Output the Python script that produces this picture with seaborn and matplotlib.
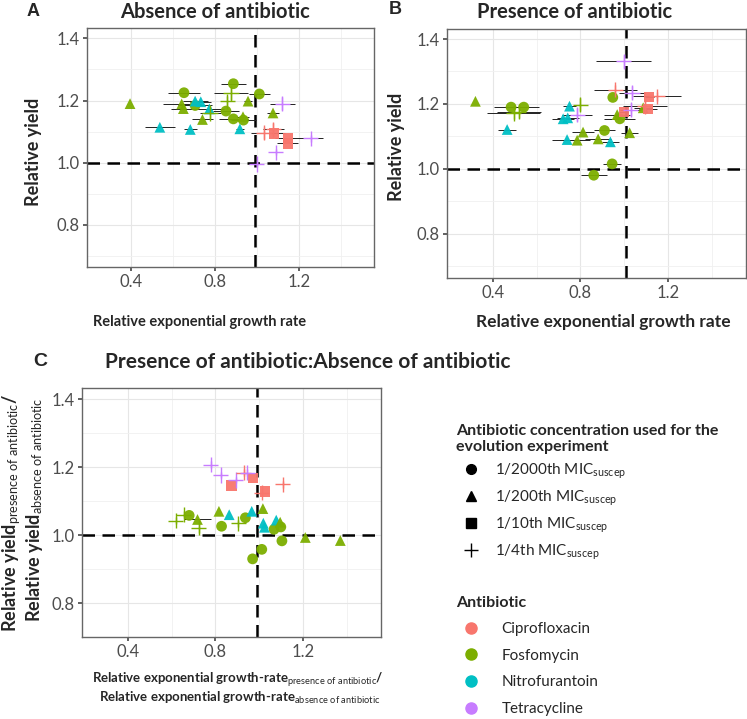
import numpy as np
import pandas as pd
import matplotlib
matplotlib.use('Agg')
import matplotlib.pyplot as plt
from matplotlib.lines import Line2D
import seaborn as sns

# legend / mapping info
drugs = ['Ciprofloxacin', 'Fosfomycin', 'Nitrofurantoin', 'Tetracycline']
drug_codes = ['C', 'F', 'N', 'T']
drug_colors = ['#F8766D', '#7CAE00', '#00BFC4', '#C77CFF']
conc_codes = ['o', '^', 's', '+']
conc_labels = ['1/2000th', '1/200th', '1/10th', '1/4th']

# Panel A - absence of antibiotic
a_x = [0.395, 0.652, 0.641, 0.649, 0.705, 0.705, 0.732, 0.773, 0.776, 0.740, 0.537,
       0.682, 0.887, 0.876, 0.859, 0.852, 0.957, 1.011, 0.887, 0.933, 0.935, 0.918,
       1.076, 1.120, 1.033, 1.078, 1.081, 1.146, 1.146, 1.256, 1.089, 0.998]
a_y = [1.190, 1.225, 1.189, 1.174, 1.184, 1.198, 1.196, 1.173, 1.160, 1.139, 1.114,
       1.107, 1.254, 1.223, 1.198, 1.166, 1.198, 1.221, 1.141, 1.148, 1.137, 1.109,
       1.160, 1.190, 1.096, 1.108, 1.094, 1.078, 1.062, 1.078, 1.034, 0.996]
a_drug = ['F', 'F', 'F', 'F', 'F', 'N', 'N', 'N', 'F', 'F', 'N',
          'N', 'F', 'F', 'F', 'F', 'F', 'F', 'F', 'F', 'F', 'N',
          'F', 'T', 'C', 'C', 'C', 'C', 'C', 'T', 'T', 'T']
a_conc = ['^', 'o', '^', '^', 'o', '^', '^', '^', '+', '^', '^',
          '^', 'o', '+', '+', 'o', '^', 'o', 'o', '^', 'o', '^',
          '^', '+', '+', '+', 's', 's', 's', '+', '+', '+']
a_xerr = [0.0, 0.075, 0.09, 0.06, 0.08, 0.06, 0.05, 0.07, 0.05, 0.05, 0.07,
          0.03, 0.06, 0.08, 0.03, 0.06, 0.02, 0.05, 0.07, 0.03, 0.06, 0.02,
          0.03, 0.06, 0.06, 0.05, 0.05, 0.06, 0.05, 0.06, 0.03, 0.01]
a_yerr = [0, 0, 0, 0, 0, 0, 0, 0, 0.02, 0, 0,
          0, 0, 0.02, 0.015, 0, 0, 0, 0, 0, 0, 0,
          0, 0.02, 0.02, 0.02, 0, 0, 0, 0.01, 0.01, 0.01]

# Panel B - presence of antibiotic
b_x = [0.320, 0.483, 0.541, 0.495, 0.518, 0.465, 0.750, 0.800, 0.785, 0.721, 0.742,
       0.812, 0.910, 0.739, 0.785, 0.881, 0.937, 1.025, 0.948, 0.968, 0.980, 0.945,
       0.861, 0.998, 0.960, 1.036, 1.115, 1.150, 1.109, 1.087, 0.998, 1.029, 1.094]
b_y = [1.208, 1.190, 1.190, 1.172, 1.176, 1.121, 1.193, 1.198, 1.167, 1.154, 1.157,
       1.113, 1.118, 1.090, 1.088, 1.092, 1.083, 1.111, 1.220, 1.167, 1.154, 1.015,
       0.980, 1.331, 1.244, 1.234, 1.222, 1.223, 1.185, 1.188, 1.175, 1.182, 1.193]
b_drug = ['F', 'F', 'F', 'F', 'F', 'N', 'N', 'F', 'T', 'N', 'N',
          'F', 'F', 'N', 'F', 'F', 'N', 'F', 'F', 'F', 'F', 'F',
          'F', 'T', 'C', 'T', 'C', 'C', 'C', 'F', 'C', 'T', 'C']
b_conc = ['^', 'o', 'o', '+', '+', '^', '^', '+', '+', '^', '^',
          '^', 'o', '^', '^', '^', '^', '^', 'o', '^', 'o', 'o',
          'o', '+', '+', '+', 's', '+', 's', '^', 's', '+', '+']
b_xerr = [0.0, 0.08, 0.07, 0.12, 0.10, 0.04, 0.03, 0.03, 0.07, 0.05, 0.05,
          0.05, 0.05, 0.07, 0.06, 0.06, 0.04, 0.04, 0.0, 0.06, 0.07, 0.04,
          0.06, 0.125, 0.10, 0.06, 0.02, 0.11, 0.04, 0.04, 0.02, 0.05, 0.10]
b_yerr = [0, 0, 0, 0.02, 0.02, 0, 0, 0.02, 0.02, 0, 0,
          0, 0, 0, 0, 0, 0, 0, 0, 0, 0, 0,
          0, 0.02, 0.015, 0.02, 0, 0.015, 0, 0, 0, 0.02, 0.015]

# Panel C - ratio presence:absence
c_x = [0.778, 0.825, 0.893, 0.930, 0.945, 0.874, 0.973, 1.027, 1.012, 1.108, 0.816,
       0.863, 0.966, 1.017, 0.937, 0.680, 0.655, 0.619, 0.718, 0.724, 0.828, 0.905,
       1.019, 1.024, 1.078, 1.096, 1.099, 1.068, 1.104, 1.211, 1.371, 1.012, 0.970]
c_y = [1.207, 1.177, 1.162, 1.184, 1.184, 1.146, 1.168, 1.128, 1.125, 1.150, 1.070,
       1.060, 1.070, 1.078, 1.051, 1.058, 1.060, 1.042, 1.046, 1.022, 1.026, 1.035,
       1.035, 1.023, 1.044, 1.038, 1.024, 1.017, 0.983, 0.993, 0.984, 0.958, 0.930]
c_drug = ['T', 'T', 'T', 'C', 'T', 'C', 'C', 'C', 'C', 'C', 'F',
          'N', 'N', 'F', 'F', 'F', 'F', 'F', 'F', 'F', 'F', 'F',
          'N', 'N', 'N', 'F', 'F', 'F', 'F', 'F', 'F', 'F', 'F']
c_conc = ['+', '+', '+', '+', '+', 's', 's', 's', '+', '+', '^',
          '^', '^', '^', 'o', 'o', '+', '+', '^', '+', 'o', '+',
          '^', '^', '^', '^', 'o', 'o', 'o', '^', '^', 'o', 'o']
c_xerr = [0.01, 0.02, 0.03, 0.03, 0.02, 0.0, 0.0, 0.0, 0.01, 0.02, 0.0,
          0.0, 0.0, 0.0, 0.0, 0.0, 0.03, 0.03, 0.06, 0.02, 0.0, 0.03,
          0.0, 0.0, 0.0, 0.0, 0.0, 0.0, 0.0, 0.0, 0.0, 0.0, 0.0]
c_yerr = [0.01, 0.01, 0.01, 0.01, 0.01, 0, 0, 0, 0.01, 0.01, 0,
          0, 0, 0, 0, 0, 0.01, 0.01, 0, 0.015, 0, 0.01,
          0, 0, 0, 0, 0, 0, 0, 0, 0, 0, 0]

sns.set_theme(style='white')
plt.rcParams['font.family'] = ['Lato', 'DejaVu Sans']
plt.rcParams['mathtext.fontset'] = 'custom'
plt.rcParams['mathtext.rm'] = 'Lato'
plt.rcParams['mathtext.it'] = 'Lato:italic'
plt.rcParams['mathtext.bf'] = 'Lato:bold'

W, H = 747, 719
fig = plt.figure(figsize=(W / 100, H / 100), dpi=100)
palette = dict(zip(drug_codes, drug_colors))


def px_axes(l, t, r, b):
    return fig.add_axes([l / W, 1 - b / H, (r - l) / W, (b - t) / H])


def ftext(x, y, s, **kw):
    fig.text(x / W, 1 - y / H, s, **kw)


def draw_panel(ax, x, y, drug, conc, xerr, yerr, vline, ylim):
    df = pd.DataFrame({'x': x, 'y': y, 'drug': drug, 'conc': conc,
                       'xerr': xerr, 'yerr': yerr})
    ax.hlines(df.y, df.x - df.xerr, df.x + df.xerr, color='#222222', lw=0.7, zorder=3)
    ye = df[df.yerr > 0]
    ax.vlines(ye.x, ye.y - ye.yerr, ye.y + ye.yerr,
              color=[palette[d] for d in ye.drug], lw=1.0, zorder=3)
    for m in conc_codes:
        sub = df[df.conc == m]
        if m == '+':
            sns.scatterplot(data=sub, x='x', y='y', hue='drug', palette=palette,
                            marker='+', s=120, linewidth=1.0, legend=False, ax=ax, zorder=4)
        else:
            sns.scatterplot(data=sub, x='x', y='y', hue='drug', palette=palette,
                            marker=m, s=60 if m != 's' else 55, linewidth=0,
                            alpha=0.95, legend=False, ax=ax, zorder=4)
    ax.axvline(vline, color='black', lw=1.8, ls=(0, (5, 3)), zorder=2)
    ax.axhline(1.0, color='black', lw=1.8, ls=(0, (5, 3)), zorder=2)
    ax.set_xlim(0.19, 1.557)
    ax.set_ylim(*ylim)
    ax.set_xticks([0.4, 0.8, 1.2])
    ax.set_xticks([0.6, 1.0, 1.4], minor=True)
    ax.set_yticks([0.8, 1.0, 1.2, 1.4])
    ax.set_yticks([0.7, 0.9, 1.1, 1.3], minor=True)
    ax.set_xticklabels(['0.4', '0.8', '1.2'])
    ax.set_yticklabels(['0.8', '1.0', '1.2', '1.4'])
    ax.grid(which='major', color='#E6E6E6', lw=0.8)
    ax.grid(which='minor', color='#F0F0F0', lw=0.6)
    ax.set_axisbelow(True)
    ax.tick_params(which='major', labelsize=12, colors='#4D4D4D', length=3, pad=2,
                   bottom=True, left=True)
    ax.tick_params(which='minor', length=0)
    for sp in ax.spines.values():
        sp.set_color('#666666')
        sp.set_linewidth(1.0)
    ax.set_xlabel('')
    ax.set_ylabel('')


ax_a = px_axes(87, 28, 374, 267)
draw_panel(ax_a, a_x, a_y, a_drug, a_conc, a_xerr, a_yerr, 0.99, (0.665, 1.433))
ax_b = px_axes(447, 29, 746, 278)
draw_panel(ax_b, b_x, b_y, b_drug, b_conc, b_xerr, b_yerr, 1.007, (0.663, 1.431))
ax_c = px_axes(82, 388, 381, 637)
draw_panel(ax_c, c_x, c_y, c_drug, c_conc, c_xerr, c_yerr, 0.99, (0.76, 1.433))

# panel letters and titles
ftext(33, 12, 'A', fontsize=13, fontweight='bold', family='Liberation Sans', ha='center', va='center')
ftext(215, 12, 'Absence of antibiotic', fontsize=14.5, fontweight='bold', ha='center', va='center')
ftext(395, 10, 'B', fontsize=13, fontweight='bold', family='Liberation Sans', ha='center', va='center')
ftext(575, 12, 'Presence of antibiotic', fontsize=14.5, fontweight='bold', ha='center', va='center')
ftext(40, 362, 'C', fontsize=14, fontweight='bold', family='Liberation Sans', ha='center', va='center')
ftext(105, 362, 'Presence of antibiotic:Absence of antibiotic', fontsize=15, fontweight='bold',
      ha='left', va='center')

# axis labels
ftext(33, 152, 'Relative yield', fontsize=13, fontweight='bold', rotation=90, ha='center', va='center')
ftext(397, 147, 'Relative yield', fontsize=13, fontweight='bold', rotation=90, ha='center', va='center')
ftext(200, 322, 'Relative exponential growth rate', fontsize=10.5, fontweight='bold', ha='center', va='center')
ftext(603, 322, 'Relative exponential growth rate', fontsize=12.5, fontweight='bold', ha='center', va='center')
ftext(12, 513, r'Relative yield$_{\mathrm{presence\ of\ antibiotic}}$/', fontsize=13, fontweight='bold',
      rotation=90, ha='center', va='center')
ftext(35, 510, r'Relative yield$_{\mathrm{absence\ of\ antibiotic}}$', fontsize=13, fontweight='bold',
      rotation=90, ha='center', va='center')
ftext(238, 680, r'Relative exponential growth-rate$_{\mathrm{presence\ of\ antibiotic}}$/', fontsize=9.5,
      fontweight='bold', ha='center', va='center')
ftext(240, 698, r'Relative exponential growth-rate$_{\mathrm{absence\ of\ antibiotic}}$', fontsize=9.5,
      fontweight='bold', ha='center', va='center')

# legends
conc_handles = [Line2D([], [], ls='none', marker=m, color='black', markersize=10 if m == '+' else 7,
                       mew=1.0) for m in conc_codes]
conc_names = [lab + r' MIC$_{\mathrm{suscep}}$' for lab in conc_labels]
leg1 = fig.legend(conc_handles, conc_names, loc='upper left', bbox_to_anchor=(442 / W, 1 - 410 / H),
                  frameon=False, fontsize=11, labelspacing=0.5, handletextpad=0.6,
                  title='Antibiotic concentration used for the\nevolution experiment',
                  title_fontproperties={'weight': 'bold', 'size': 11.5}, alignment='left')
drug_handles = [Line2D([], [], ls='none', marker='o', color=c, markersize=8) for c in drug_colors]
leg2 = fig.legend(drug_handles, drugs, loc='upper left', bbox_to_anchor=(442 / W, 1 - 582 / H),
                  frameon=False, fontsize=11, labelspacing=0.82, handletextpad=1.0,
                  title='Antibiotic', title_fontproperties={'weight': 'bold', 'size': 11.5},
                  alignment='left')

fig.savefig('out.png', dpi=100)
